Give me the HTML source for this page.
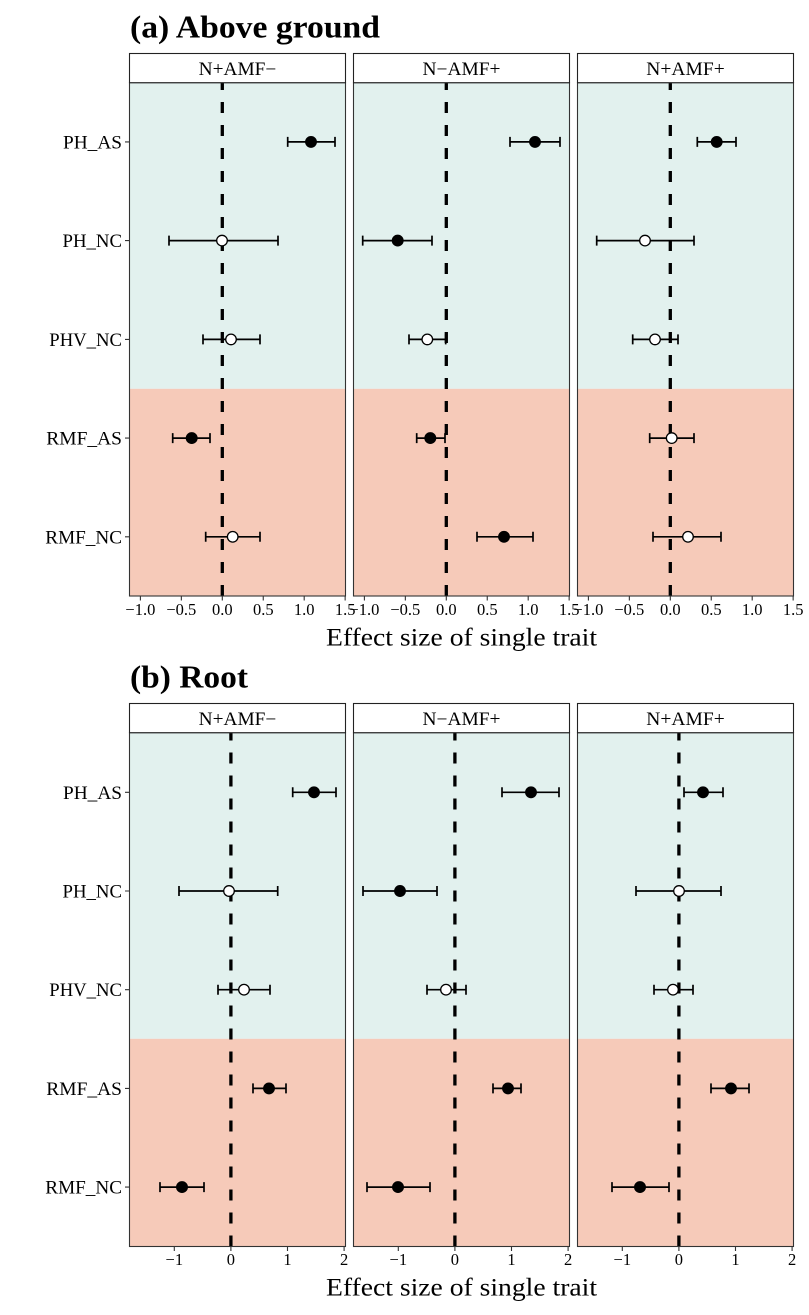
<!DOCTYPE html>
<html><head><meta charset="utf-8"><style>
html,body{margin:0;padding:0;background:#fff;}
svg{display:block;}
text{font-family:"Liberation Serif","Times New Roman",serif;fill:#000;}
</style></head><body>
<svg xmlns="http://www.w3.org/2000/svg" width="809" height="1315" viewBox="0 0 809 1315">
<rect width="809" height="1315" fill="#fff"/>

<!-- ===================== (a) Above ground ===================== -->
<text x="130" y="37.3" font-size="32" font-weight="bold" textLength="250" lengthAdjust="spacingAndGlyphs">(a) Above ground</text>

<!-- backgrounds -->
<g>
<rect x="129.5" y="82.7" width="216" height="306.1" fill="#E2F1EE"/>
<rect x="129.5" y="388.8" width="216" height="207.2" fill="#F6CAB9"/>
<rect x="353.5" y="82.7" width="216" height="306.1" fill="#E2F1EE"/>
<rect x="353.5" y="388.8" width="216" height="207.2" fill="#F6CAB9"/>
<rect x="577.5" y="82.7" width="216" height="306.1" fill="#E2F1EE"/>
<rect x="577.5" y="388.8" width="216" height="207.2" fill="#F6CAB9"/>
</g>
<!-- zero lines -->
<g stroke="#000" stroke-width="3.3" stroke-dasharray="11 12" fill="none">
<path d="M222.3 596 V82.7"/>
<path d="M446.3 596 V82.7"/>
<path d="M670.3 596 V82.7"/>
</g>
<!-- error bars -->
<g stroke="#000" stroke-width="1.7" fill="none">
<path d="M287.7 141.9H335M287.7 136.9V146.9M335 136.9V146.9"/>
<path d="M169 240.6H278M169 235.6V245.6M278 235.6V245.6"/>
<path d="M203 339.4H260M203 334.4V344.4M260 334.4V344.4"/>
<path d="M172.7 438.1H210M172.7 433.1V443.1M210 433.1V443.1"/>
<path d="M205.7 536.8H260M205.7 531.8V541.8M260 531.8V541.8"/>

<path d="M510 141.9H560M510 136.9V146.9M560 136.9V146.9"/>
<path d="M362.7 240.6H432M362.7 235.6V245.6M432 235.6V245.6"/>
<path d="M409 339.4H445.7M409 334.4V344.4M445.7 334.4V344.4"/>
<path d="M416.7 438.1H445M416.7 433.1V443.1M445 433.1V443.1"/>
<path d="M477 536.8H533M477 531.8V541.8M533 531.8V541.8"/>

<path d="M697.3 141.9H736M697.3 136.9V146.9M736 136.9V146.9"/>
<path d="M596.7 240.6H694M596.7 235.6V245.6M694 235.6V245.6"/>
<path d="M632.7 339.4H678M632.7 334.4V344.4M678 334.4V344.4"/>
<path d="M649.7 438.1H694M649.7 433.1V443.1M694 433.1V443.1"/>
<path d="M653 536.8H721M653 531.8V541.8M721 531.8V541.8"/>
</g>
<!-- points -->
<g stroke="#000" stroke-width="1.3">
<circle cx="311" cy="141.9" r="5.3" fill="#000"/>
<circle cx="222" cy="240.6" r="5.3" fill="#fff"/>
<circle cx="231" cy="339.4" r="5.3" fill="#fff"/>
<circle cx="191.7" cy="438.1" r="5.3" fill="#000"/>
<circle cx="232.7" cy="536.8" r="5.3" fill="#fff"/>

<circle cx="535" cy="141.9" r="5.3" fill="#000"/>
<circle cx="397.7" cy="240.6" r="5.3" fill="#000"/>
<circle cx="427.3" cy="339.4" r="5.3" fill="#fff"/>
<circle cx="430.3" cy="438.1" r="5.3" fill="#000"/>
<circle cx="504" cy="536.8" r="5.3" fill="#000"/>

<circle cx="716.7" cy="141.9" r="5.3" fill="#000"/>
<circle cx="645" cy="240.6" r="5.3" fill="#fff"/>
<circle cx="655" cy="339.4" r="5.3" fill="#fff"/>
<circle cx="671.7" cy="438.1" r="5.3" fill="#fff"/>
<circle cx="688" cy="536.8" r="5.3" fill="#fff"/>
</g>
<!-- panel borders + strips -->
<g stroke="#333" stroke-width="1.1" fill="none">
<rect x="129.5" y="82.7" width="216" height="513.3"/>
<rect x="353.5" y="82.7" width="216" height="513.3"/>
<rect x="577.5" y="82.7" width="216" height="513.3"/>
</g>
<g stroke="#222" stroke-width="1.1" fill="#fff">
<rect x="129.5" y="53.5" width="216" height="29.2"/>
<rect x="353.5" y="53.5" width="216" height="29.2"/>
<rect x="577.5" y="53.5" width="216" height="29.2"/>
</g>
<text x="237.5" y="75" font-size="18.5" text-anchor="middle" textLength="77.7" lengthAdjust="spacingAndGlyphs">N+AMF−</text>
<text x="461.5" y="75" font-size="18.5" text-anchor="middle" textLength="78" lengthAdjust="spacingAndGlyphs">N−AMF+</text>
<text x="685.5" y="75" font-size="18.5" text-anchor="middle" textLength="78.4" lengthAdjust="spacingAndGlyphs">N+AMF+</text>

<!-- y ticks + labels -->
<g stroke="#333" stroke-width="1.1">
<path d="M125 141.9H129.5M125 240.6H129.5M125 339.4H129.5M125 438.1H129.5M125 536.8H129.5"/>
</g>
<g font-size="18.7" text-anchor="end">
<text x="122" y="148.4" textLength="59" lengthAdjust="spacingAndGlyphs">PH_AS</text>
<text x="122" y="247.1" textLength="59.5" lengthAdjust="spacingAndGlyphs">PH_NC</text>
<text x="122" y="345.9" textLength="72.7" lengthAdjust="spacingAndGlyphs">PHV_NC</text>
<text x="122" y="444.6" textLength="75.7" lengthAdjust="spacingAndGlyphs">RMF_AS</text>
<text x="122" y="543.3" textLength="76.7" lengthAdjust="spacingAndGlyphs">RMF_NC</text>
</g>

<!-- x ticks -->
<g stroke="#333" stroke-width="1.1">
<path d="M140.4 596V600.5M181.35 596V600.5M222.3 596V600.5M263.25 596V600.5M304.2 596V600.5M345.15 596V600.5"/>
<path d="M364.4 596V600.5M405.35 596V600.5M446.3 596V600.5M487.25 596V600.5M528.2 596V600.5M569.15 596V600.5"/>
<path d="M588.4 596V600.5M629.35 596V600.5M670.3 596V600.5M711.25 596V600.5M752.2 596V600.5M793.15 596V600.5"/>
</g>
<g font-size="16.5" text-anchor="middle">
<text x="140.4" y="615">−1.0</text><text x="181.35" y="615">−0.5</text><text x="222.3" y="615">0.0</text><text x="263.25" y="615">0.5</text><text x="304.2" y="615">1.0</text><text x="345.15" y="615">1.5</text>
<text x="364.4" y="615">−1.0</text><text x="405.35" y="615">−0.5</text><text x="446.3" y="615">0.0</text><text x="487.25" y="615">0.5</text><text x="528.2" y="615">1.0</text><text x="569.15" y="615">1.5</text>
<text x="588.4" y="615">−1.0</text><text x="629.35" y="615">−0.5</text><text x="670.3" y="615">0.0</text><text x="711.25" y="615">0.5</text><text x="752.2" y="615">1.0</text><text x="793.15" y="615">1.5</text>
</g>
<text x="461.5" y="645.3" font-size="25" text-anchor="middle" textLength="271" lengthAdjust="spacingAndGlyphs">Effect size of single trait</text>

<!-- ===================== (b) Root ===================== -->
<text x="130" y="687.3" font-size="32" font-weight="bold" textLength="118" lengthAdjust="spacingAndGlyphs">(b) Root</text>

<g>
<rect x="129.5" y="732.7" width="216" height="306.1" fill="#E2F1EE"/>
<rect x="129.5" y="1038.8" width="216" height="207.7" fill="#F6CAB9"/>
<rect x="353.5" y="732.7" width="216" height="306.1" fill="#E2F1EE"/>
<rect x="353.5" y="1038.8" width="216" height="207.7" fill="#F6CAB9"/>
<rect x="577.5" y="732.7" width="216" height="306.1" fill="#E2F1EE"/>
<rect x="577.5" y="1038.8" width="216" height="207.7" fill="#F6CAB9"/>
</g>
<g stroke="#000" stroke-width="3.3" stroke-dasharray="11 12" fill="none">
<path d="M230.9 1246.5 V732.7"/>
<path d="M454.9 1246.5 V732.7"/>
<path d="M678.9 1246.5 V732.7"/>
</g>
<g stroke="#000" stroke-width="1.7" fill="none">
<path d="M292.7 792.3H336M292.7 787.3V797.3M336 787.3V797.3"/>
<path d="M179 891H277.7M179 886V896M277.7 886V896"/>
<path d="M218 989.7H270M218 984.7V994.7M270 984.7V994.7"/>
<path d="M253 1088.4H286M253 1083.4V1093.4M286 1083.4V1093.4"/>
<path d="M160 1187.1H204M160 1182.1V1192.1M204 1182.1V1192.1"/>

<path d="M502 792.3H559M502 787.3V797.3M559 787.3V797.3"/>
<path d="M363 891H437M363 886V896M437 886V896"/>
<path d="M427 989.7H466M427 984.7V994.7M466 984.7V994.7"/>
<path d="M493 1088.4H521M493 1083.4V1093.4M521 1083.4V1093.4"/>
<path d="M367 1187.1H430M367 1182.1V1192.1M430 1182.1V1192.1"/>

<path d="M684 792.3H723M684 787.3V797.3M723 787.3V797.3"/>
<path d="M636 891H721M636 886V896M721 886V896"/>
<path d="M654 989.7H693M654 984.7V994.7M693 984.7V994.7"/>
<path d="M711 1088.4H749M711 1083.4V1093.4M749 1083.4V1093.4"/>
<path d="M612 1187.1H669M612 1182.1V1192.1M669 1182.1V1192.1"/>
</g>
<g stroke="#000" stroke-width="1.3">
<circle cx="314" cy="792.3" r="5.3" fill="#000"/>
<circle cx="229" cy="891" r="5.3" fill="#fff"/>
<circle cx="244" cy="989.7" r="5.3" fill="#fff"/>
<circle cx="269" cy="1088.4" r="5.3" fill="#000"/>
<circle cx="182" cy="1187.1" r="5.3" fill="#000"/>

<circle cx="531" cy="792.3" r="5.3" fill="#000"/>
<circle cx="400" cy="891" r="5.3" fill="#000"/>
<circle cx="446" cy="989.7" r="5.3" fill="#fff"/>
<circle cx="508" cy="1088.4" r="5.3" fill="#000"/>
<circle cx="398" cy="1187.1" r="5.3" fill="#000"/>

<circle cx="703" cy="792.3" r="5.3" fill="#000"/>
<circle cx="679" cy="891" r="5.3" fill="#fff"/>
<circle cx="673" cy="989.7" r="5.3" fill="#fff"/>
<circle cx="731" cy="1088.4" r="5.3" fill="#000"/>
<circle cx="640" cy="1187.1" r="5.3" fill="#000"/>
</g>
<g stroke="#333" stroke-width="1.1" fill="none">
<rect x="129.5" y="732.7" width="216" height="513.8"/>
<rect x="353.5" y="732.7" width="216" height="513.8"/>
<rect x="577.5" y="732.7" width="216" height="513.8"/>
</g>
<g stroke="#222" stroke-width="1.1" fill="#fff">
<rect x="129.5" y="703.5" width="216" height="29.2"/>
<rect x="353.5" y="703.5" width="216" height="29.2"/>
<rect x="577.5" y="703.5" width="216" height="29.2"/>
</g>
<text x="237.5" y="725" font-size="18.5" text-anchor="middle" textLength="77.7" lengthAdjust="spacingAndGlyphs">N+AMF−</text>
<text x="461.5" y="725" font-size="18.5" text-anchor="middle" textLength="78" lengthAdjust="spacingAndGlyphs">N−AMF+</text>
<text x="685.5" y="725" font-size="18.5" text-anchor="middle" textLength="78.4" lengthAdjust="spacingAndGlyphs">N+AMF+</text>

<g stroke="#333" stroke-width="1.1">
<path d="M125 792.3H129.5M125 891H129.5M125 989.7H129.5M125 1088.4H129.5M125 1187.1H129.5"/>
</g>
<g font-size="18.7" text-anchor="end">
<text x="122" y="798.8" textLength="59" lengthAdjust="spacingAndGlyphs">PH_AS</text>
<text x="122" y="897.5" textLength="59.5" lengthAdjust="spacingAndGlyphs">PH_NC</text>
<text x="122" y="996.2" textLength="72.7" lengthAdjust="spacingAndGlyphs">PHV_NC</text>
<text x="122" y="1094.9" textLength="75.7" lengthAdjust="spacingAndGlyphs">RMF_AS</text>
<text x="122" y="1193.6" textLength="76.7" lengthAdjust="spacingAndGlyphs">RMF_NC</text>
</g>

<g stroke="#333" stroke-width="1.1">
<path d="M174.3 1246.5V1251M230.9 1246.5V1251M287.5 1246.5V1251M344.1 1246.5V1251"/>
<path d="M398.3 1246.5V1251M454.9 1246.5V1251M511.5 1246.5V1251M568.1 1246.5V1251"/>
<path d="M622.3 1246.5V1251M678.9 1246.5V1251M735.5 1246.5V1251M792.1 1246.5V1251"/>
</g>
<g font-size="16.5" text-anchor="middle">
<text x="174.3" y="1265">−1</text><text x="230.9" y="1265">0</text><text x="287.5" y="1265">1</text><text x="344.1" y="1265">2</text>
<text x="398.3" y="1265">−1</text><text x="454.9" y="1265">0</text><text x="511.5" y="1265">1</text><text x="568.1" y="1265">2</text>
<text x="622.3" y="1265">−1</text><text x="678.9" y="1265">0</text><text x="735.5" y="1265">1</text><text x="792.1" y="1265">2</text>
</g>
<text x="461.5" y="1295.3" font-size="25" text-anchor="middle" textLength="271" lengthAdjust="spacingAndGlyphs">Effect size of single trait</text>
</svg>
</body></html>
